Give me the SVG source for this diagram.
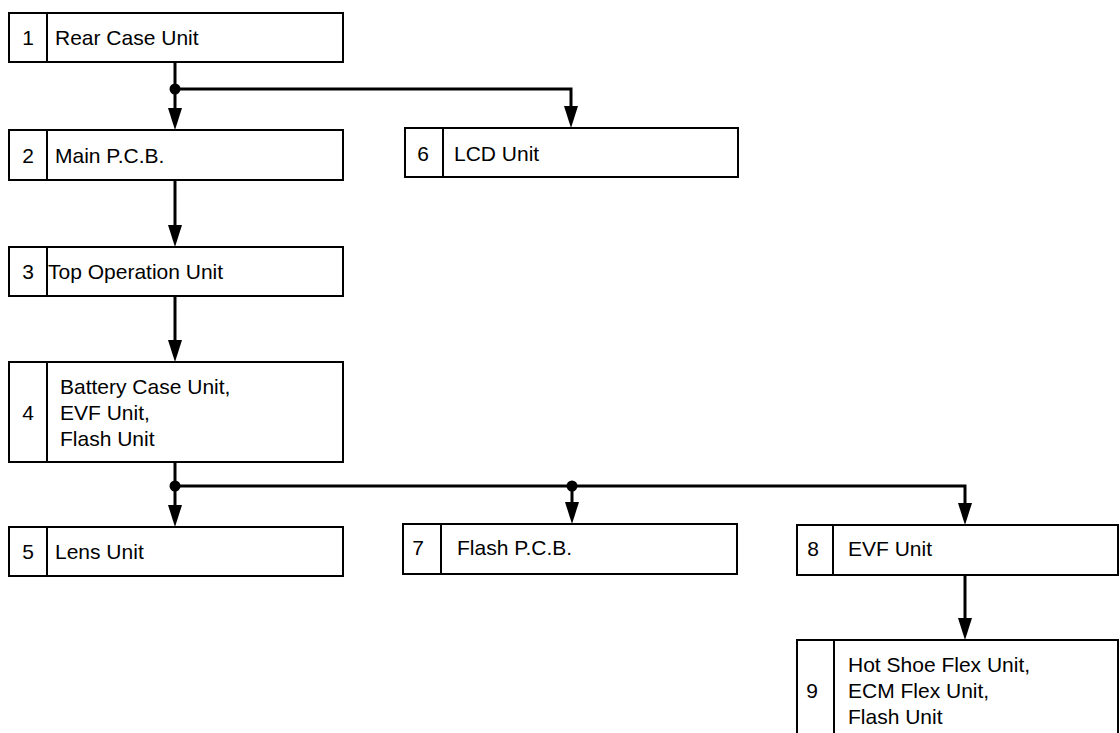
<svg xmlns="http://www.w3.org/2000/svg" width="1120" height="733" viewBox="0 0 1120 733">
<defs>
<style>
.box{fill:#fff;stroke:#000;stroke-width:2}
.div{stroke:#000;stroke-width:2}
.t{font-family:"Liberation Sans",Arial,sans-serif;font-size:21px;fill:#000}
.n{font-family:"Liberation Sans",Arial,sans-serif;font-size:21px;fill:#000;text-anchor:middle}
.c{fill:none;stroke:#000;stroke-width:3}
.dot{fill:#000}
</style>
<marker id="arr" markerUnits="userSpaceOnUse" markerWidth="22" markerHeight="14" refX="14" refY="7" orient="auto" viewBox="0 0 22 14">
<path d="M0,0 L22,7 L0,14 Z" fill="#000"/>
</marker>
</defs>
<rect width="1120" height="733" fill="#fff"/>
<g id="connectors">
<path class="c" d="M175,62 V122" marker-end="url(#arr)"/>
<path class="c" d="M175,89 H571 V120" marker-end="url(#arr)"/>
<path class="c" d="M175,180 V239" marker-end="url(#arr)"/>
<path class="c" d="M175,296 V354" marker-end="url(#arr)"/>
<path class="c" d="M175,462 V519" marker-end="url(#arr)"/>
<path class="c" d="M175,486 H965 V517" marker-end="url(#arr)"/>
<path class="c" d="M572,486 V516" marker-end="url(#arr)"/>
<path class="c" d="M965,575 V632" marker-end="url(#arr)"/>
<circle class="dot" cx="175" cy="89" r="5.5"/>
<circle class="dot" cx="175" cy="486" r="5.5"/>
<circle class="dot" cx="572" cy="486" r="5.5"/>
</g>
<g id="node1">
<rect class="box" x="9" y="13" width="334" height="49"/>
<line class="div" x1="47" y1="13" x2="47" y2="62"/>
<text class="n" x="28" y="45">1</text>
<text class="t" x="55" y="45">Rear Case Unit</text>
</g>
<g id="node2">
<rect class="box" x="9" y="130" width="334" height="50"/>
<line class="div" x1="47" y1="130" x2="47" y2="180"/>
<text class="n" x="28" y="163">2</text>
<text class="t" x="55" y="163">Main P.C.B.</text>
</g>
<g id="node3">
<rect class="box" x="9" y="247" width="334" height="49"/>
<line class="div" x1="47" y1="247" x2="47" y2="296"/>
<text class="n" x="28" y="279">3</text>
<text class="t" x="48" y="279">Top Operation Unit</text>
</g>
<g id="node4">
<rect class="box" x="9" y="362" width="334" height="100"/>
<line class="div" x1="47" y1="362" x2="47" y2="462"/>
<text class="n" x="28" y="420">4</text>
<text class="t" x="60" y="394">Battery Case Unit,</text>
<text class="t" x="60" y="420">EVF Unit,</text>
<text class="t" x="60" y="446">Flash Unit</text>
</g>
<g id="node5">
<rect class="box" x="9" y="527" width="334" height="49"/>
<line class="div" x1="47" y1="527" x2="47" y2="576"/>
<text class="n" x="28" y="559">5</text>
<text class="t" x="55" y="559">Lens Unit</text>
</g>
<g id="node6">
<rect class="box" x="405" y="128" width="333" height="49"/>
<line class="div" x1="443" y1="128" x2="443" y2="177"/>
<text class="n" x="423" y="161">6</text>
<text class="t" x="454" y="161">LCD Unit</text>
</g>
<g id="node7">
<rect class="box" x="403" y="524" width="334" height="50"/>
<line class="div" x1="441" y1="524" x2="441" y2="574"/>
<text class="n" x="418" y="555">7</text>
<text class="t" x="457" y="555">Flash P.C.B.</text>
</g>
<g id="node8">
<rect class="box" x="797" y="525" width="321" height="50"/>
<line class="div" x1="833" y1="525" x2="833" y2="575"/>
<text class="n" x="813" y="556">8</text>
<text class="t" x="848" y="556">EVF Unit</text>
</g>
<g id="node9">
<rect class="box" x="797" y="640" width="321" height="110"/>
<line class="div" x1="834" y1="640" x2="834" y2="750"/>
<text class="n" x="812" y="698">9</text>
<text class="t" x="848" y="672">Hot Shoe Flex Unit,</text>
<text class="t" x="848" y="698">ECM Flex Unit,</text>
<text class="t" x="848" y="724">Flash Unit</text>
</g>
</svg>
